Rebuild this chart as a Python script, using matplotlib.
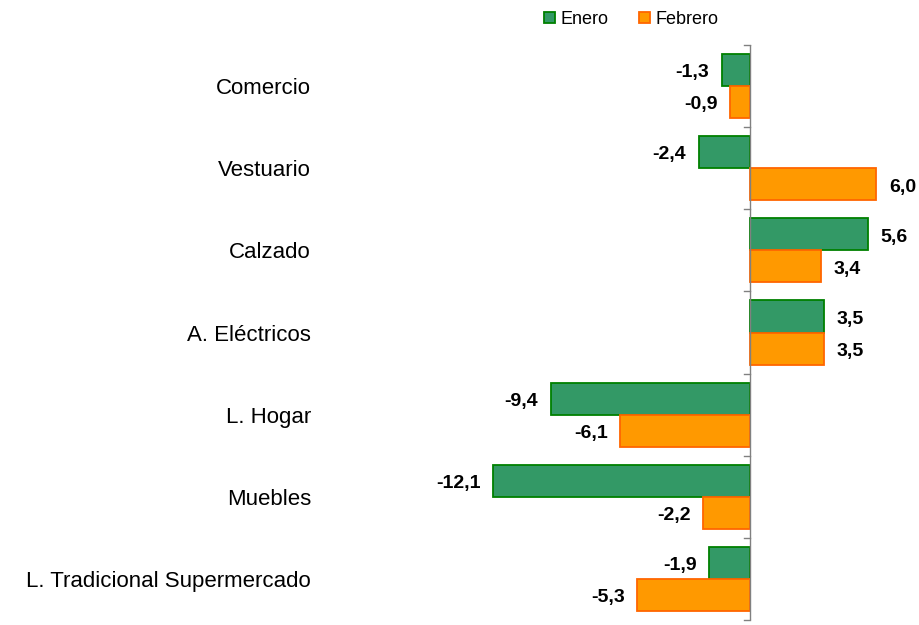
import numpy as np
import matplotlib
matplotlib.use("Agg")
from matplotlib import pyplot as plt

plt.rcParams['font.family'] = ['Liberation Sans', 'DejaVu Sans']

categorias = ["Comercio", "Vestuario", "Calzado", "A. Eléctricos",
              "L. Hogar", "Muebles", "L. Tradicional Supermercado"]
enero = [-1.3, -2.4, 5.6, 3.5, -9.4, -12.1, -1.9]
febrero = [-0.9, 6.0, 3.4, 3.5, -6.1, -2.2, -5.3]

verde, verde_borde = "#339966", "#008000"
naranja, naranja_borde = "#FF9900", "#FF6600"

fig = plt.figure(figsize=(9.2, 6.25), dpi=100)
ax = fig.add_axes([0.35, 0.008, 0.628, 0.92])

y = np.arange(len(categorias))
h = 0.39
ax.barh(y - h / 2, enero, height=h, color=verde, edgecolor=verde_borde,
        linewidth=1.3, label="Enero")
ax.barh(y + h / 2, febrero, height=h, color=naranja, edgecolor=naranja_borde,
        linewidth=1.3, label="Febrero")

ax.set_xlim(-20.2, 7.1)
ax.set_ylim(len(categorias) - 0.5, -0.5)

def etiquetar(vals, pos):
    for v, p in zip(vals, pos):
        txt = ("%.1f" % v).replace(".", ",")
        if v < 0:
            ax.annotate(txt, (v, p), xytext=(-9, -2), textcoords="offset points",
                        ha="right", va="center", fontsize=14, fontweight="bold")
        else:
            ax.annotate(txt, (v, p), xytext=(9, -2), textcoords="offset points",
                        ha="left", va="center", fontsize=14, fontweight="bold")

etiquetar(enero, y - h / 2)
etiquetar(febrero, y + h / 2)

for s in ["top", "right", "bottom", "left"]:
    ax.spines[s].set_visible(False)
ax.axvline(0, color="#808080", linewidth=1.0)
ax.set_xticks([])

ax.set_yticks(y)
ax.set_yticklabels(categorias, fontsize=16)
ax.tick_params(axis="y", length=0, pad=8)
# small ticks on the zero line between groups
for yl in np.arange(-0.5, len(categorias), 1.0):
    ax.plot([-0.25, 0], [yl, yl], color="#808080", linewidth=1.0, clip_on=False)

ax.legend(loc="upper center", bbox_to_anchor=(0.535, 1.088), ncol=2, frameon=False,
          fontsize=13, handlelength=0.6, handleheight=0.6, handletextpad=0.3,
          columnspacing=1.7)

fig.savefig("out.png", dpi=100)
